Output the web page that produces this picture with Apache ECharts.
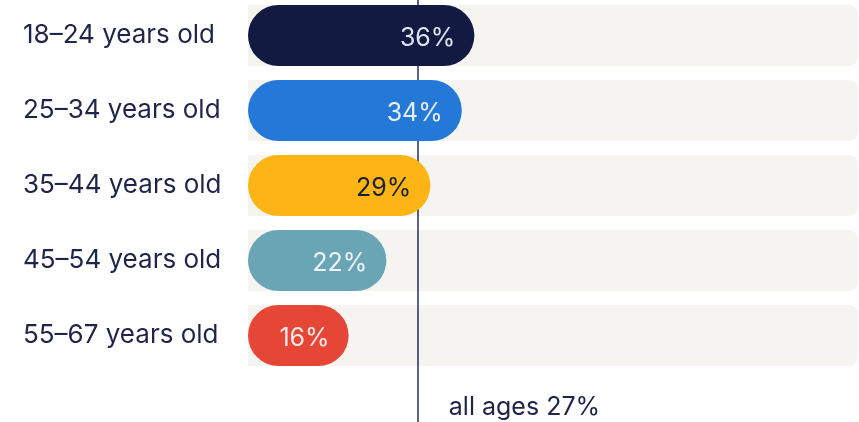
<!DOCTYPE html>
<html>
<head>
<meta charset="utf-8">
<script src="https://cdn.jsdelivr.net/npm/echarts@6/dist/echarts.min.js"></script>
<style>
  html, body { margin: 0; padding: 0; background: #ffffff; }
  #chart { width: 859px; height: 422px; }
</style>
</head>
<body>
<div id="chart"></div>
<script>
// age groups, last empty row holds the average label
const categories = ['18–24 years old', '25–34 years old', '35–44 years old', '45–54 years old', '55–67 years old', ''];
const shares = [36, 34, 29, 22, 16];
const barColors = ['#121a42', '#2478d8', '#fdb515', '#6aa5b5', '#e64636'];
const labelColors = ['#dde4f0', '#e8eef8', '#1a1f3a', '#eef3f5', '#fbeae7'];
const trackMax = 97;
const allAges = 27;

const chart = echarts.init(document.getElementById('chart'));

const option = {
  animation: false,
  backgroundColor: '#ffffff',
  grid: { left: 248, right: 1, top: -2, height: 450, containLabel: false, outerBoundsMode: 'none' },
  xAxis: {
    type: 'value', min: 0, max: trackMax,
    show: false
  },
  yAxis: {
    type: 'category',
    data: categories,
    inverse: true,
    axisLine: { show: false },
    axisTick: { show: false },
    splitLine: { show: false },
    axisLabel: {
      align: 'left',
      margin: 225,
      padding: [5, 0, 0, 0],
      fontFamily: 'Inter',
      fontSize: 26,
      color: '#1f2548'
    }
  },
  series: [
    {
      // light background track
      type: 'bar',
      data: shares.map(() => trackMax).concat(['-']),
      barWidth: 61,
      barGap: '-100%',
      silent: true,
      itemStyle: { color: '#f5f4f0', borderRadius: [0, 9, 9, 0] },
      z: 1,
      markLine: {
        symbol: 'none',
        silent: true,
        z: 2,
        lineStyle: { color: '#252e52', width: 1.5, type: 'solid' },
        label: { show: false },
        data: [{ xAxis: allAges }]
      },
      markPoint: {
        symbolSize: 0,
        data: [{ coord: [allAges, 5] }],
        label: {
          show: true,
          position: 'right',
          distance: 31,
          offset: [0, -3],
          formatter: 'all ages ' + allAges + '%',
          fontFamily: 'Inter',
          fontSize: 25,
          color: '#1f2548'
        }
      }
    },
    {
      type: 'bar',
      barWidth: 61,
      z: 3,
      data: shares.map((v, i) => ({
        value: v,
        itemStyle: { color: barColors[i] },
        label: { color: labelColors[i] }
      })),
      itemStyle: { borderRadius: 30.5 },
      label: {
        show: true,
        position: 'insideRight',
        distance: 19,
        offset: [0, 2.5],
        formatter: '{c}%',
        fontFamily: 'Inter',
        fontSize: 25
      }
    }
  ]
};

chart.setOption(option);
</script>
</body>
</html>
